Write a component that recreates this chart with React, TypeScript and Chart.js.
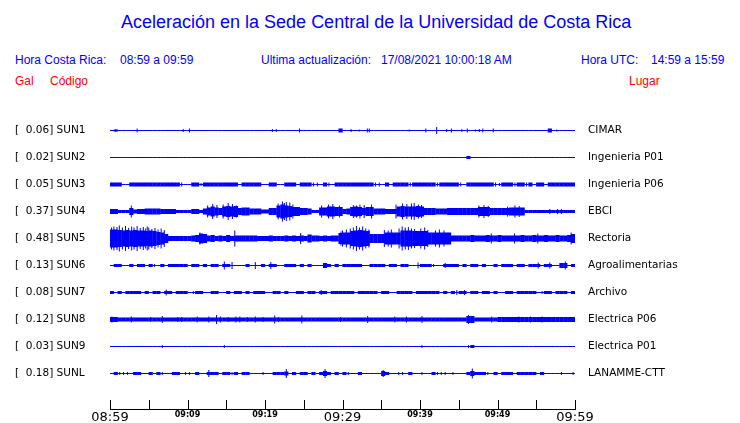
import React, { useEffect, useRef } from "react";
import { Chart, registerables } from "chart.js";

Chart.register(...registerables);

// ---------------- data ----------------
const codes = ["SUN1", "SUN2", "SUN3", "SUN4", "SUN5", "SUN6", "SUN7", "SUN8", "SUN9", "SUNL"];
const peakGal = ["0.06", "0.02", "0.05", "0.37", "0.48", "0.13", "0.08", "0.12", "0.03", "0.18"];
const places = [
  "CIMAR", "Ingenieria P01", "Ingenieria P06", "EBCI", "Rectoria",
  "Agroalimentarias", "Archivo", "Electrica P06", "Electrica P01", "LANAMME-CTT",
];
const tickMinutes = [0, 5, 10, 15, 20, 25, 30, 35, 40, 45, 50, 55, 60];
const tickLabels = ["08:59", "", "09:09", "", "09:19", "", "09:29", "", "09:39", "", "09:49", "", "09:59"];
const majorLabels = ["08:59", "09:29", "09:59"];
const binMinutes = 0.5; // each envelope value covers 30 s

// envelope (core) thickness in px of each trace, one value per 30 s
const bandSUN1 = [
  1, 2, 1, 1, 1, 1, 1, 1, 1, 1, 1, 1, 1, 1, 1, 1, 1, 1, 1, 1,
  1, 1, 1, 1, 1, 1, 1, 1, 1, 1, 1, 1, 1, 1, 1, 1, 1, 1, 1, 1,
  1, 1, 1, 1, 1, 1, 1, 1, 1, 1, 1, 1, 1, 1, 1, 1, 1, 1, 1, 4,
  1, 1, 1, 1, 1, 1, 1, 1, 1, 1, 1, 1, 1, 1, 1, 1, 1, 1, 1, 1,
  1, 1, 1, 1, 1, 1, 1, 1, 1, 1, 1, 1, 1, 1, 1, 1, 1, 1, 1, 1,
  1, 1, 1, 1, 1, 1, 1, 1, 1, 1, 1, 1, 1, 4, 1, 1, 1, 1, 1, 1,
];
const bandSUN2 = [
  1, 1, 1, 1, 1, 1, 1, 1, 1, 1, 1, 1, 1, 1, 1, 1, 1, 1, 1, 1,
  1, 1, 1, 1, 1, 1, 1, 1, 1, 1, 1, 1, 1, 1, 1, 1, 1, 1, 1, 1,
  1, 1, 1, 1, 1, 1, 1, 1, 1, 1, 1, 1, 1, 1, 1, 1, 1, 1, 1, 1,
  1, 1, 1, 1, 1, 1, 1, 1, 1, 1, 1, 1, 1, 1, 1, 1, 1, 1, 1, 1,
  1, 1, 1, 1, 1, 1, 1, 1, 1, 1, 1, 1, 3, 1, 1, 1, 1, 1, 1, 1,
  1, 1, 1, 1, 1, 1, 1, 1, 1, 1, 1, 1, 1, 1, 1, 1, 1, 1, 1, 1,
];
const bandSUN3 = [
  4, 4, 4, 1, 1, 4, 4, 4, 4, 4, 4, 4, 4, 4, 4, 4, 4, 4, 1, 1,
  1, 4, 4, 1, 4, 4, 4, 4, 4, 4, 4, 4, 4, 1, 4, 4, 4, 4, 4, 1,
  1, 4, 4, 1, 1, 4, 4, 4, 1, 4, 4, 4, 1, 1, 1, 4, 1, 1, 4, 4,
  4, 4, 4, 4, 4, 4, 4, 4, 1, 1, 1, 4, 1, 4, 4, 4, 4, 1, 4, 4,
  4, 4, 4, 4, 1, 4, 4, 4, 4, 4, 1, 1, 4, 4, 4, 4, 4, 4, 4, 1,
  1, 4, 4, 4, 1, 4, 4, 1, 4, 1, 4, 4, 1, 4, 4, 4, 4, 4, 4, 4,
];
const bandSUN4 = [
  5, 5, 3, 3, 3, 7, 4, 5, 5, 6, 6, 6, 6, 5, 5, 5, 5, 3, 3, 3,
  3, 5, 5, 3, 6, 8, 10, 8, 7, 10, 11, 10, 11, 7, 8, 8, 6, 6, 6, 4,
  4, 7, 7, 12, 14, 12, 11, 9, 9, 7, 7, 6, 3, 3, 8, 8, 10, 10, 9, 9,
  5, 6, 9, 10, 9, 7, 9, 9, 6, 6, 6, 5, 5, 5, 10, 11, 10, 10, 10, 11,
  10, 7, 7, 7, 6, 6, 6, 7, 7, 7, 7, 7, 7, 7, 7, 9, 9, 9, 7, 7,
  7, 7, 7, 8, 8, 8, 8, 3, 3, 3, 3, 3, 3, 3, 3, 3, 3, 3, 3, 3,
];
const bandSUN5 = [
  18, 18, 17, 16, 17, 16, 17, 16, 16, 15, 16, 15, 13, 12, 9, 5, 5, 5, 5, 5,
  5, 6, 7, 10, 9, 6, 7, 5, 6, 5, 7, 5, 6, 6, 6, 6, 6, 6, 5, 5,
  5, 6, 5, 5, 5, 6, 5, 6, 5, 6, 5, 8, 6, 6, 5, 6, 5, 6, 6, 11,
  12, 12, 15, 16, 17, 16, 15, 9, 9, 9, 9, 12, 12, 12, 12, 16, 16, 16, 15, 15,
  15, 15, 12, 12, 12, 12, 12, 12, 6, 6, 6, 6, 6, 7, 6, 6, 6, 7, 6, 6,
  7, 6, 6, 6, 6, 6, 7, 6, 6, 7, 6, 6, 7, 6, 6, 7, 6, 6, 7, 9,
];
const bandSUN6 = [
  1, 3, 3, 1, 1, 3, 1, 3, 3, 1, 3, 1, 1, 3, 1, 3, 3, 3, 3, 3,
  1, 3, 3, 1, 3, 1, 3, 3, 1, 3, 3, 1, 1, 1, 1, 3, 1, 1, 1, 3,
  1, 3, 3, 1, 1, 3, 3, 3, 1, 3, 1, 3, 1, 1, 1, 5, 3, 1, 3, 1,
  3, 3, 3, 3, 3, 1, 1, 3, 3, 3, 3, 1, 3, 3, 1, 3, 3, 1, 1, 1,
  3, 3, 3, 1, 1, 1, 3, 3, 3, 3, 1, 3, 1, 3, 3, 1, 3, 1, 1, 3,
  1, 3, 3, 3, 1, 3, 3, 1, 3, 3, 3, 1, 3, 3, 1, 1, 5, 5, 1, 3,
];
const bandSUN7 = [
  3, 1, 3, 1, 3, 3, 3, 3, 1, 3, 1, 3, 3, 1, 3, 3, 1, 3, 3, 3,
  1, 1, 3, 3, 1, 1, 3, 3, 1, 1, 3, 1, 3, 3, 1, 3, 1, 3, 3, 3,
  1, 1, 3, 3, 1, 3, 1, 1, 3, 3, 1, 3, 3, 1, 3, 3, 1, 3, 3, 3,
  3, 3, 3, 1, 3, 3, 3, 3, 3, 1, 3, 3, 1, 1, 3, 3, 3, 3, 1, 3,
  3, 3, 3, 3, 3, 1, 3, 1, 3, 1, 3, 3, 1, 3, 3, 1, 3, 3, 1, 3,
  1, 1, 3, 3, 1, 3, 3, 3, 3, 3, 1, 1, 3, 3, 1, 3, 3, 3, 1, 3,
];
const bandSUN8 = [
  5, 5, 4, 4, 4, 4, 4, 4, 4, 4, 4, 4, 4, 4, 4, 4, 4, 4, 4, 4,
  4, 4, 4, 4, 4, 4, 4, 4, 4, 4, 4, 4, 4, 4, 4, 4, 4, 4, 4, 4,
  4, 4, 4, 4, 4, 4, 4, 4, 4, 4, 4, 4, 4, 4, 4, 4, 4, 4, 4, 4,
  4, 4, 4, 4, 4, 4, 4, 4, 4, 4, 4, 4, 4, 4, 4, 4, 4, 4, 4, 4,
  4, 4, 4, 4, 4, 4, 4, 4, 4, 4, 4, 4, 7, 7, 4, 4, 4, 4, 4, 4,
  5, 5, 5, 5, 5, 5, 5, 5, 5, 5, 5, 5, 5, 5, 5, 5, 5, 5, 5, 5,
];
const bandSUN9 = [
  1, 1, 1, 1, 1, 1, 1, 1, 1, 1, 1, 1, 1, 1, 1, 1, 1, 1, 1, 1,
  1, 1, 1, 1, 1, 1, 1, 1, 1, 1, 1, 1, 1, 1, 1, 1, 1, 1, 1, 1,
  1, 1, 1, 1, 1, 1, 1, 1, 1, 1, 1, 1, 1, 1, 1, 1, 1, 1, 1, 1,
  1, 1, 1, 1, 1, 1, 1, 1, 1, 1, 1, 1, 1, 1, 1, 1, 1, 1, 1, 1,
  1, 1, 1, 1, 1, 1, 1, 1, 1, 1, 1, 1, 1, 3, 1, 1, 1, 1, 1, 1,
  1, 1, 1, 1, 1, 1, 1, 1, 1, 1, 1, 1, 1, 1, 1, 1, 1, 1, 1, 1,
];
const bandSUNL = [
  1, 3, 1, 1, 1, 1, 3, 3, 1, 1, 3, 1, 3, 1, 1, 1, 3, 3, 1, 1,
  1, 1, 3, 1, 1, 3, 3, 3, 1, 3, 3, 1, 3, 1, 3, 3, 1, 1, 1, 1,
  1, 1, 3, 3, 3, 4, 1, 3, 1, 3, 3, 1, 3, 1, 3, 5, 3, 1, 3, 1,
  3, 1, 1, 1, 3, 1, 1, 1, 1, 1, 5, 3, 1, 1, 1, 1, 1, 3, 1, 1,
  1, 1, 1, 3, 1, 1, 1, 1, 1, 1, 1, 1, 3, 5, 3, 3, 3, 1, 1, 3,
  1, 3, 3, 3, 1, 3, 3, 3, 3, 3, 1, 3, 1, 1, 1, 1, 1, 1, 1, 1,
];

// narrow peaks: [minute after 08:59, peak-to-peak height px]
const spikesSUN1 = [[0.75, 3], [3.5, 4], [9.45, 3], [10.25, 4], [20.95, 3], [21.45, 3], [24.45, 4], [31.1, 3], [32.15, 2], [33.2, 4], [33.45, 4], [38.6, 2], [40.75, 4], [42.15, 7], [43.45, 3], [44.05, 4], [45.4, 3], [46.1, 4], [47.15, 2], [47.65, 3], [48.1, 4], [49.45, 4], [57.65, 2]];
const spikesSUN2: number[][] = [];
const spikesSUN3 = [[9.25, 4], [11.75, 3], [26.25, 4], [26.75, 4], [28.25, 4], [34.25, 4], [34.75, 4], [38.75, 4], [42.25, 4], [45.25, 4], [49.75, 4], [50.25, 3], [52.25, 4], [53.75, 4]];
const spikesSUN4 = [[2.75, 12], [12.6, 12], [13.25, 15], [13.8, 13], [14.6, 14], [15.25, 17], [15.8, 15], [16.3, 12], [21.7, 16], [22.25, 20], [22.5, 17], [22.75, 19], [23.2, 18], [23.6, 14], [27.3, 12], [28.2, 14], [28.75, 15], [29.6, 12], [31.4, 13], [31.8, 12], [32.25, 14], [32.8, 13], [33.75, 14], [36.9, 14], [37.75, 16], [38.3, 15], [38.9, 16], [39.25, 17], [39.8, 14], [40.2, 13], [47.6, 12], [48.25, 13], [48.8, 11], [51.3, 10], [52.25, 12], [52.8, 11], [56.75, 5], [57.75, 5], [58.25, 5]];
const spikesSUN5 = [[0.2, 22], [0.5, 24], [0.9, 23], [1.2, 26], [1.6, 22], [2.0, 25], [2.4, 21], [2.8, 24], [3.1, 22], [3.5, 25], [3.9, 21], [4.3, 23], [4.6, 20], [4.8, 24], [5.0, 22], [5.4, 19], [5.8, 21], [6.2, 18], [6.6, 20], [7.0, 17], [11.6, 12], [16.1, 16], [24.6, 11], [29.8, 14], [30.0, 16], [30.5, 18], [31.0, 20], [31.4, 22], [31.8, 25], [32.2, 22], [32.6, 24], [33.0, 20], [33.4, 18], [35.4, 17], [35.9, 16], [36.3, 18], [37.3, 20], [37.7, 24], [38.1, 22], [38.5, 23], [38.9, 20], [39.3, 19], [40.1, 20], [40.6, 22], [41.0, 17], [42.0, 16], [42.5, 18], [43.1, 16], [49.2, 10], [52.2, 10], [55.2, 10], [59.5, 12]];
const spikesSUN6 = [[5.75, 3], [14.75, 8], [15.75, 7], [18.75, 7], [20.75, 7], [39.75, 6], [41.75, 3], [43.25, 5], [55.25, 6], [56.75, 6], [58.75, 8]];
const spikesSUN7 = [[7.25, 6], [10.75, 3], [27.25, 5], [44.75, 5], [45.75, 5], [55.75, 3]];
const spikesSUN8 = [[0.25, 6], [0.75, 5], [2.75, 6], [5.25, 5], [6.75, 7], [8.75, 5], [9.25, 5], [11.25, 6], [12.75, 6], [13.75, 9], [14.25, 6], [15.25, 5], [16.25, 6], [16.75, 6], [17.75, 5], [18.75, 6], [19.75, 5], [21.25, 8], [21.75, 5], [24.75, 8], [29.75, 5], [33.25, 7], [36.75, 6], [38.25, 6], [40.25, 7], [46.25, 9], [49.25, 6], [52.75, 6], [54.25, 6], [54.75, 5], [55.75, 6]];
const spikesSUN9 = [[6.75, 3], [14.75, 3], [40.25, 3], [46.25, 3]];
const spikesSUNL = [[1.25, 3], [1.75, 3], [2.25, 3], [6.75, 3], [9.75, 3], [10.25, 3], [12.75, 7], [15.75, 3], [17.75, 3], [19.75, 3], [21.75, 3], [22.75, 9], [27.75, 9], [30.75, 3], [35.25, 7], [37.25, 3], [37.75, 3], [40.25, 3], [42.25, 3], [42.75, 3], [43.25, 3], [44.25, 3], [46.75, 10], [48.75, 3], [58.25, 3], [59.75, 3]];

const bands = [bandSUN1, bandSUN2, bandSUN3, bandSUN4, bandSUN5, bandSUN6, bandSUN7, bandSUN8, bandSUN9, bandSUNL];
const spikes = [spikesSUN1, spikesSUN2, spikesSUN3, spikesSUN4, spikesSUN5, spikesSUN6, spikesSUN7, spikesSUN8, spikesSUN9, spikesSUNL];

// ---------------- styling ----------------
const BLUE = "#0000ff";
const RED = "#ff0000";
const AXIS_Y = 409; // pixel row of the time axis
const ROW_TOP = 278.5; // value of the first trace (pixel 130.5)
const ROW_STEP = 27;
const rowCenter = (i: number) => ROW_TOP - ROW_STEP * i;

const upTicks = {
  id: "upTicks",
  afterDraw(chart: any) {
    const s = chart.scales.x;
    const ctx = chart.ctx;
    ctx.save();
    ctx.strokeStyle = "#000";
    ctx.lineWidth = 1;
    ctx.beginPath();
    s.ticks.forEach((t: any) => {
      const x = Math.round(s.getPixelForValue(t.value)) + 0.5;
      ctx.moveTo(x, s.top + 1);
      ctx.lineTo(x, s.top - 9);
    });
    ctx.stroke();
    ctx.restore();
  },
};

const noVerticalPadding = (s: any, width: number) => {
  s.width = width;
  s.paddingTop = 0;
  s.paddingBottom = 0;
};

function SeismoChart() {
  const ref = useRef<HTMLCanvasElement | null>(null);
  useEffect(() => {
    if (!ref.current) return;
    const datasets: any[] = [];
    bands.forEach((band, i) => {
      const c = rowCenter(i);
      datasets.push({
        label: codes[i],
        data: band.map((t, k) => ({ x: (k + 0.5) * binMinutes, y: [c - t / 2, c + t / 2] })),
        backgroundColor: BLUE,
        borderWidth: 0,
        grouped: false,
        barThickness: 4.2,
        inflateAmount: 0,
        yAxisID: "y",
      });
      datasets.push({
        label: codes[i] + " picos",
        data: spikes[i].map(([m, h]) => ({ x: m, y: [c - h / 2, c + h / 2] })),
        backgroundColor: BLUE,
        borderWidth: 0,
        grouped: false,
        barThickness: 1,
        inflateAmount: 0,
        yAxisID: "y",
      });
    });
    const chart: any = new Chart(ref.current, {
      type: "bar",
      data: { datasets },
      plugins: [upTicks],
      options: {
        animation: false,
        responsive: true,
        maintainAspectRatio: false,
        devicePixelRatio: 1,
        layout: { autoPadding: false, padding: { left: 15, right: 0, top: 112, bottom: 0 } },
        plugins: { legend: { display: false }, tooltip: { enabled: false }, title: { display: false } },
        scales: {
          x: {
            type: "linear",
            position: "bottom",
            min: 0,
            max: 60,
            offset: false,
            grid: { display: false, drawTicks: false },
            border: { display: true, color: "#000", width: 1 },
            afterBuildTicks: (s: any) => {
              s.ticks = tickMinutes.map((v) => ({ value: v }));
            },
            afterFit: (s: any) => {
              s.height = 14;
            },
            ticks: {
              autoSkip: false,
              maxRotation: 0,
              padding: 1,
              color: "#000",
              callback: (_v: any, i: number) => tickLabels[i],
              font: (ctx: any) => {
                const lab = tickLabels[ctx.index] || "";
                return majorLabels.includes(lab)
                  ? { family: "DejaVu Sans", size: 13 }
                  : { family: "DejaVu Sans", size: 8, weight: "bold" };
              },
            },
          },
          y: {
            type: "linear",
            position: "left",
            min: 0,
            max: 297,
            grid: { display: false, drawTicks: false },
            border: { display: false },
            afterBuildTicks: (s: any) => {
              s.ticks = codes.map((_, i) => ({ value: rowCenter(i) }));
            },
            afterFit: (s: any) => noVerticalPadding(s, 95),
            ticks: {
              autoSkip: false,
              crossAlign: "far",
              padding: 0,
              color: "#000",
              font: { family: "DejaVu Sans", size: 10.5 },
              callback: (_v: any, i: number) => `[  ${peakGal[i]}] ${codes[i]}`,
            },
          },
          y2: {
            type: "linear",
            position: "right",
            min: 0,
            max: 297,
            grid: { display: false, drawTicks: false },
            border: { display: false },
            afterBuildTicks: (s: any) => {
              s.ticks = places.map((_, i) => ({ value: rowCenter(i) }));
            },
            afterFit: (s: any) => noVerticalPadding(s, 165),
            ticks: {
              autoSkip: false,
              crossAlign: "near",
              padding: 13,
              color: "#000",
              font: { family: "DejaVu Sans", size: 10.5 },
              callback: (_v: any, i: number) => places[i],
            },
          },
        },
      } as any,
    });
    // value v is drawn at pixel (AXIS_Y - v), whatever the final chart area is
    const ca = chart.chartArea;
    ["y", "y2"].forEach((id) => {
      chart.options.scales[id].min = AXIS_Y - ca.bottom;
      chart.options.scales[id].max = AXIS_Y - ca.top;
    });
    chart.update("none");
    return () => chart.destroy();
  }, []);
  return (
    <div style={{ position: "absolute", left: 0, top: 0, width: 740, height: 423 }}>
      <canvas ref={ref} />
    </div>
  );
}

const txt = (color: string, size: number) => ({
  position: "absolute" as const,
  fontFamily: "'Liberation Sans', Arial, sans-serif",
  fontSize: size,
  lineHeight: `${size}px`,
  color,
  whiteSpace: "pre" as const,
});

export default function App() {
  return (
    <div style={{ position: "absolute", left: 0, top: 0, width: 740, height: 423, background: "#fff", overflow: "hidden" }}>
      <div style={{ ...txt(BLUE, 18), left: 121, top: 13 }}>Aceleración en la Sede Central de la Universidad de Costa Rica</div>
      <div style={{ ...txt(BLUE, 12), left: 15, top: 54 }}>Hora Costa Rica:</div>
      <div style={{ ...txt(BLUE, 12), left: 120, top: 54 }}>08:59 a 09:59</div>
      <div style={{ ...txt(BLUE, 12), left: 261, top: 54 }}>Ultima actualización:</div>
      <div style={{ ...txt(BLUE, 12), left: 381, top: 54 }}>17/08/2021 10:00:18 AM</div>
      <div style={{ ...txt(BLUE, 12), left: 581, top: 54 }}>Hora UTC:</div>
      <div style={{ ...txt(BLUE, 12), left: 651, top: 54 }}>14:59 a 15:59</div>
      <div style={{ ...txt(RED, 12), left: 15, top: 75 }}>Gal</div>
      <div style={{ ...txt(RED, 12), left: 50, top: 75 }}>Código</div>
      <div style={{ ...txt(RED, 12), left: 629, top: 75 }}>Lugar</div>
      <SeismoChart />
    </div>
  );
}
